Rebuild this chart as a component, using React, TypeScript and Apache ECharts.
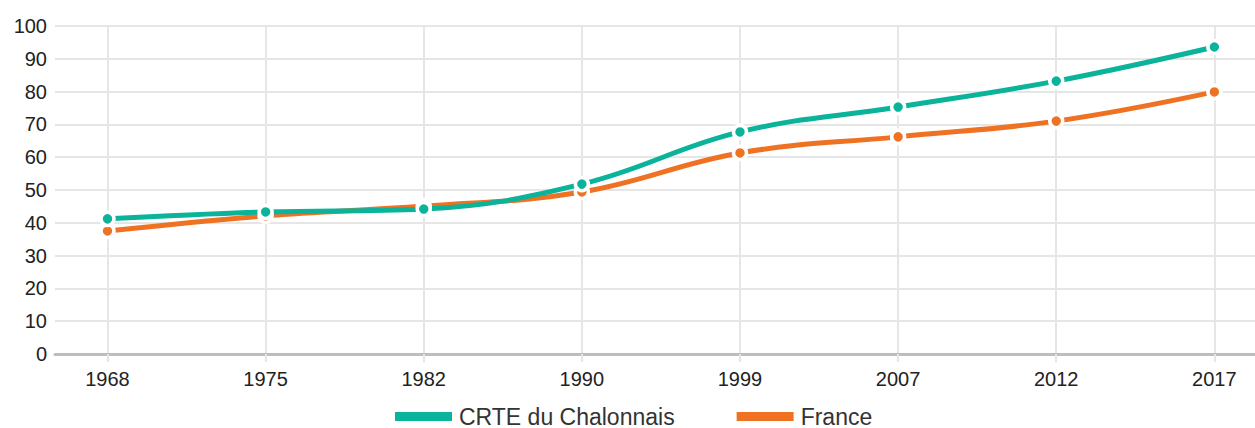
import React, { useEffect, useRef } from "react";
import * as echarts from "echarts";

const years = ["1968", "1975", "1982", "1990", "1999", "2007", "2012", "2017"];
const crteValues = [41.2, 43.3, 44.2, 51.8, 67.7, 75.3, 83.2, 93.6];
const franceValues = [37.5, 42.1, 45.1, 49.4, 61.3, 66.2, 71.0, 79.9];
const yTicks = [0, 10, 20, 30, 40, 50, 60, 70, 80, 90, 100];

const TEAL = "#0bb39b";
const ORANGE = "#ef7223";
const FONT = "'Liberation Sans', Arial, Helvetica, sans-serif";

export default function App() {
  const ref = useRef<HTMLDivElement>(null);

  useEffect(() => {
    document.body.style.margin = "0";
    if (!ref.current) return;
    const chart = echarts.init(ref.current, undefined, { renderer: "svg" });
    const idx = years.map((_, i) => i);
    const mk = (vals: number[]) => vals.map((v, i) => [i, v]);
    chart.setOption({
      animation: false,
      grid: { left: 55, right: 0, top: 26, bottom: 74, containLabel: false },
      xAxis: {
        type: "value",
        min: -0.332,
        max: 7.257,
        axisLine: { show: true, onZero: false, lineStyle: { color: "#bdbdbd", width: 3 } },
        axisTick: {
          show: true,
          customValues: idx,
          length: 8,
          lineStyle: { color: "#e6e6e6", width: 2 },
        },
        axisLabel: {
          customValues: idx,
          formatter: (v: number) => years[Math.round(v)] ?? "",
          fontSize: 20,
          fontFamily: FONT,
          color: "#222",
          margin: 15,
        },
        splitLine: { show: true, lineStyle: { color: "#e6e6e6", width: 2 } },
      },
      yAxis: {
        type: "value",
        min: yTicks[0],
        max: yTicks[yTicks.length - 1],
        interval: 10,
        axisLine: { show: false },
        axisTick: { show: false },
        axisLabel: { fontSize: 20, fontFamily: FONT, color: "#222", margin: 8 },
        splitLine: { show: true, lineStyle: { color: "#e6e6e6", width: 2 } },
      },
      legend: {
        data: ["CRTE du Chalonnais", "France"],
        left: 395,
        top: 405,
        padding: 0,
        icon: "rect",
        itemWidth: 57,
        itemHeight: 9,
        itemGap: 62,
        itemStyle: { borderWidth: 0 },
        textStyle: {
          fontSize: 23,
          lineHeight: 22,
          fontFamily: FONT,
          color: "#333",
          padding: [0, 0, 0, 2],
        },
      },
      series: [
        {
          name: "France",
          type: "line",
          data: mk(franceValues),
          smooth: 0.4,
          symbol: "circle",
          symbolSize: 13,
          showAllSymbol: true,
          lineStyle: { color: ORANGE, width: 5 },
          itemStyle: { color: ORANGE, borderColor: "#fff", borderWidth: 3.5 },
        },
        {
          name: "CRTE du Chalonnais",
          type: "line",
          data: mk(crteValues),
          smooth: 0.4,
          symbol: "circle",
          symbolSize: 13,
          showAllSymbol: true,
          lineStyle: { color: TEAL, width: 5 },
          itemStyle: { color: TEAL, borderColor: "#fff", borderWidth: 3.5 },
        },
      ],
    });
    return () => chart.dispose();
  }, []);

  return <div ref={ref} style={{ width: 1255, height: 428 }} />;
}
